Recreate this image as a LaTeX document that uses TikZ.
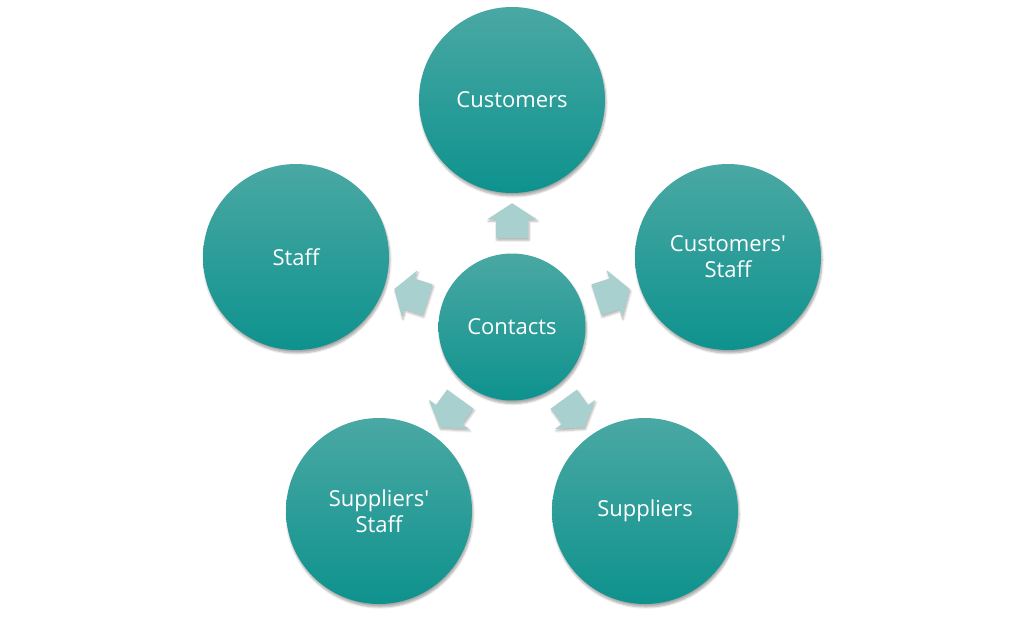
\documentclass[tikz,border=0pt]{standalone}
\usepackage{fontspec}
\setmainfont{Open Sans}[Ligatures=TeXOff]
\usetikzlibrary{shapes.arrows,shadows.blur}
\definecolor{tealtop}{HTML}{4AA8A3}
\definecolor{tealbot}{HTML}{0E928E}
\definecolor{arrfill}{HTML}{A8D0CE}
\tikzset{
  bubble/.style={circle, minimum size=186pt, inner sep=0pt, draw=none,
    top color=tealtop, bottom color=tealbot, text=white, align=center,
    font=\fontsize{22}{26}\selectfont,
    blur shadow={shadow xshift=1pt, shadow yshift=-3pt, shadow blur steps=6, shadow opacity=35}},
  hub/.style={bubble, minimum size=147pt},
  pointer/.style={single arrow, draw=none, fill=arrfill, inner xsep=0pt, inner ysep=16pt,
    minimum height=35pt, single arrow head extend=8.5pt, single arrow tip angle=114,
    blur shadow={shadow xshift=1pt, shadow yshift=-2pt, shadow blur steps=5, shadow opacity=30}}
}
\begin{document}
\begin{tikzpicture}[x=1pt,y=-1pt]
\useasboundingbox (0,0) rectangle (1024,618);
\node[hub] (contacts) at (512,327) {Contacts};
\node[bubble] (customers) at (512,100) {Customers};
\node[bubble] (custstaff) at (728,257) {Customers'\\Staff};
\node[bubble] (staff) at (296,257) {Staff};
\node[bubble] (suppliers) at (645,511) {Suppliers};
\node[bubble] (suppstaff) at (379,511) {Suppliers'\\Staff};
\node[pointer, rotate=90] (a1) at (512,226) {};
\node[pointer, rotate=18] (a2) at (608,296) {};
\node[pointer, rotate=162] (a3) at (416,296) {};
\node[pointer, rotate=-54] (a4) at (571,409) {};
\node[pointer, rotate=234] (a5) at (453,409) {};
\end{tikzpicture}
\end{document}
